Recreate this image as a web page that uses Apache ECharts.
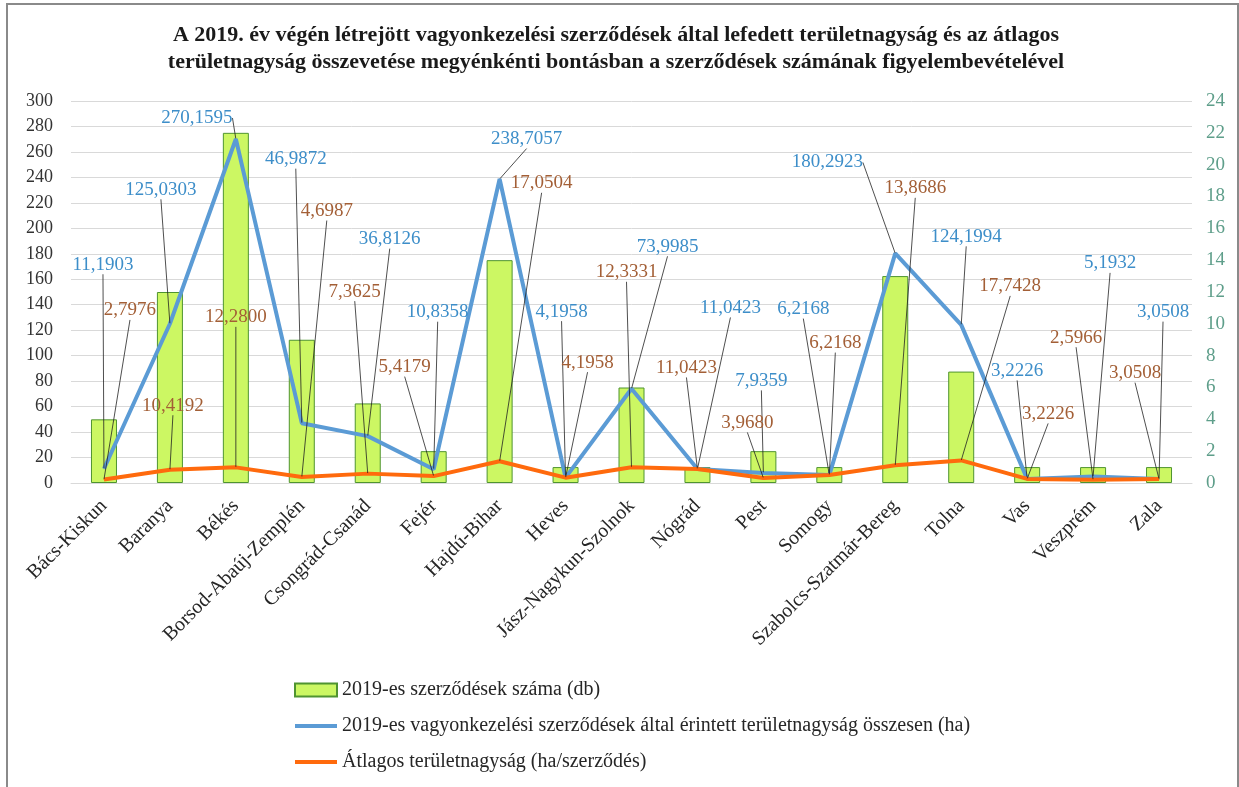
<!DOCTYPE html>
<html lang="hu">
<head>
    <meta charset="UTF-8">
    <title>Vagyonkezelési szerződések 2019</title>
    <style>
        html, body { margin: 0; padding: 0; background: #fff; }
        #container { width: 1239px; height: 787px; }
    </style>
</head>
<body>
    <div id="container"></div>
    <script src="https://cdn.jsdelivr.net/npm/echarts@6/dist/echarts.min.js"></script>
    <script>
        // megyék
        var counties = ['Bács-Kiskun', 'Baranya', 'Békés', 'Borsod-Abaúj-Zemplén', 'Csongrád-Csanád', 'Fejér',
            'Hajdú-Bihar', 'Heves', 'Jász-Nagykun-Szolnok', 'Nógrád', 'Pest', 'Somogy',
            'Szabolcs-Szatmár-Bereg', 'Tolna', 'Vas', 'Veszprém', 'Zala'];
        // szerződések száma (db) - jobb tengely
        var contracts = [4, 12, 22, 9, 5, 2, 14, 1, 6, 1, 2, 1, 13, 7, 1, 1, 1];
        // összes területnagyság (ha)
        var totalArea = [11.1903, 125.0303, 270.1595, 46.9872, 36.8126, 10.8358, 238.7057, 4.1958, 73.9985,
            11.0423, 7.9359, 6.2168, 180.2923, 124.1994, 3.2226, 5.1932, 3.0508];
        // átlagos területnagyság (ha/szerződés)
        var avgArea = [2.7976, 10.4192, 12.2800, 4.6987, 7.3625, 5.4179, 17.0504, 4.1958, 12.3331,
            11.0423, 3.9680, 6.2168, 13.8686, 17.7428, 3.2226, 2.5966, 3.0508];
        var leftTicks = { min: 0, max: 300, interval: 20 };
        var rightTicks = { min: 0, max: 24, interval: 2 };

        var titleText = 'A 2019. év végén létrejött vagyonkezelési szerződések által lefedett területnagyság és az átlagos\n' +
            'területnagyság összevetése megyénkénti bontásban a szerződések számának figyelembevételével';
        var legendNames = ['2019-es szerződések száma (db)',
            '2019-es vagyonkezelési szerződések által érintett területnagyság összesen (ha)',
            'Átlagos területnagyság (ha/szerződés)'];

        // címkék eltolása a ponthoz képest (px)
        var blueOffsets = [[-1, -204], [-9, -134], [-39, -21], [-6, -264], [22, -197], [4, -157], [27, -40],
            [-4, -166], [36, -142], [33, -161], [-2, -92], [-26, -166], [-68, -91], [5, -88], [-10, -108],
            [17, -213], [4, -167]];
        var brownOffsets = [[26, -169], [3, -64], [0, -150], [25, -266], [-13, -182], [-29, -109], [42, -278],
            [22, -115], [-5, -195], [-11, -101], [-16, -55], [6, -132], [20, -277], [49, -174], [21, -65],
            [-17, -142], [-24, -106]];

        var serif = '"Liberation Serif", "DejaVu Serif", serif';

        function fmt(p) {
            return p.value.toFixed(4).replace('.', ',');
        }
        function layoutWith(offsets) {
            return function (p) {
                var o = offsets[p.dataIndex];
                return {
                    x: p.rect.x + p.rect.width / 2 + o[0],
                    y: p.rect.y + p.rect.height / 2 + o[1],
                    align: 'center',
                    verticalAlign: 'middle'
                };
            };
        }

        var ec = echarts.init(document.getElementById('container'));

        var option = {
            animation: false,
            backgroundColor: '#fff',
            graphic: [{
                type: 'rect',
                shape: { x: 7, y: 4, width: 1231, height: 800 },
                style: { fill: 'none', stroke: '#8a8a8a', lineWidth: 2 },
                silent: true
            }, {
                type: 'text',
                x: 616,
                y: 22,
                silent: true,
                style: {
                    text: titleText,
                    align: 'center',
                    verticalAlign: 'top',
                    fontFamily: serif,
                    fontWeight: 'bold',
                    fontSize: 22,
                    lineHeight: 27,
                    fill: '#1a1a1a'
                }
            }],
            legend: {
                orient: 'vertical',
                left: 288,
                top: 675,
                itemWidth: 42,
                itemHeight: 13,
                itemGap: 16,
                textStyle: { fontFamily: serif, fontSize: 20, color: '#262626' },
                data: [
                    { name: legendNames[0], icon: 'rect' },
                    { name: legendNames[1], itemStyle: { opacity: 0 }, lineStyle: { width: 4 } },
                    { name: legendNames[2], itemStyle: { opacity: 0 }, lineStyle: { width: 4 } }
                ]
            },
            grid: { left: 71, right: 47, top: 101, bottom: 304, containLabel: false },
            xAxis: {
                type: 'category',
                data: counties,
                axisTick: { show: false },
                axisLine: { lineStyle: { color: '#d9d9d9', width: 1 } },
                axisLabel: {
                    interval: 0,
                    rotate: 45,
                    margin: 20,
                    fontFamily: serif,
                    fontSize: 20,
                    color: '#262626'
                }
            },
            yAxis: [{
                type: 'value',
                min: leftTicks.min,
                max: leftTicks.max,
                interval: leftTicks.interval,
                axisLine: { show: false },
                axisTick: { show: false },
                splitLine: { lineStyle: { color: '#d9d9d9', width: 1 } },
                axisLabel: { fontFamily: serif, fontSize: 18, color: '#333', margin: 18 }
            }, {
                type: 'value',
                min: rightTicks.min,
                max: rightTicks.max,
                interval: rightTicks.interval,
                axisLine: { show: false },
                axisTick: { show: false },
                splitLine: { show: false },
                axisLabel: { fontFamily: serif, fontSize: 19, color: '#5e9e8a', margin: 14 }
            }],
            series: [{
                name: legendNames[0],
                type: 'bar',
                yAxisIndex: 1,
                barWidth: 26,
                data: contracts,
                itemStyle: { color: '#ccf763', borderColor: '#4f9430', borderWidth: 1 },
                emphasis: { disabled: true }
            }, {
                name: legendNames[1],
                type: 'line',
                yAxisIndex: 0,
                data: totalArea,
                symbol: 'circle',
                symbolSize: 1,
                showSymbol: true,
                lineStyle: { color: '#5b9bd5', width: 4 },
                itemStyle: { color: '#5b9bd5' },
                label: {
                    show: true,
                    formatter: fmt,
                    fontFamily: serif,
                    fontSize: 19,
                    color: '#3d8ec9'
                },
                labelLine: { show: true, lineStyle: { color: '#222', width: 0.8 } },
                labelLayout: layoutWith(blueOffsets),
                emphasis: { disabled: true },
                z: 3
            }, {
                name: legendNames[2],
                type: 'line',
                yAxisIndex: 0,
                data: avgArea,
                symbol: 'circle',
                symbolSize: 1,
                showSymbol: true,
                lineStyle: { color: '#ff6a0d', width: 4 },
                itemStyle: { color: '#ff6a0d' },
                label: {
                    show: true,
                    formatter: fmt,
                    fontFamily: serif,
                    fontSize: 19,
                    color: '#a35f36'
                },
                labelLine: { show: true, lineStyle: { color: '#222', width: 0.8 } },
                labelLayout: layoutWith(brownOffsets),
                emphasis: { disabled: true },
                z: 4
            }]
        };
        ec.setOption(option);
    </script>
</body>
</html>
